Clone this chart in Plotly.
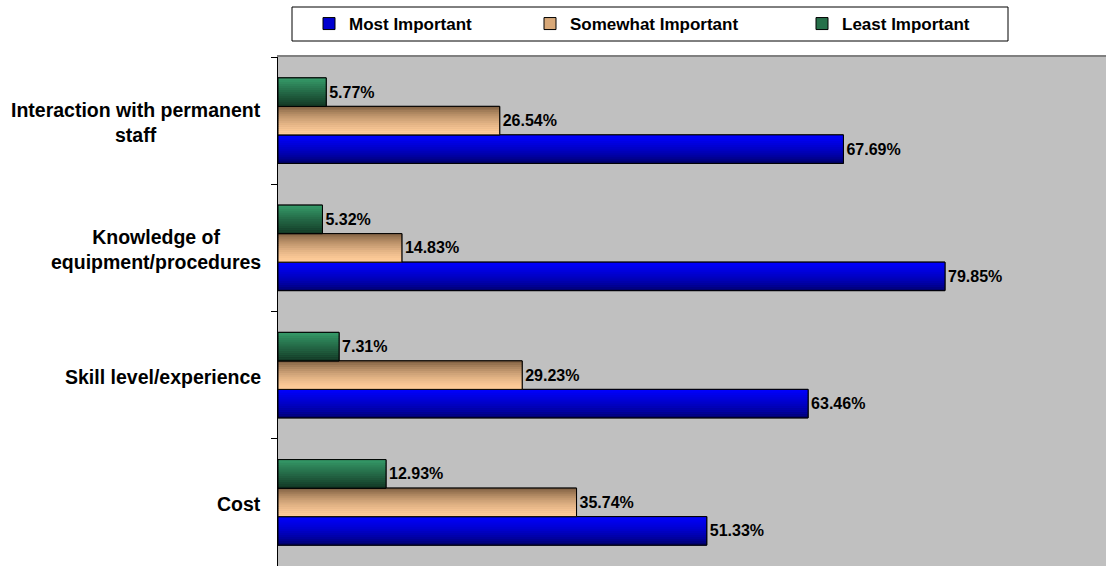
import plotly.graph_objects as go

# Categories listed bottom-to-top along the y axis
categories = ["Cost", "Skill level/experience", "Knowledge of equipment/procedures",
              "Interaction with permanent staff"]
category_labels = ["Cost", "Skill level/experience", "Knowledge of<br>equipment/procedures",
                   "Interaction with permanent<br>staff"]

most_important = [51.33, 63.46, 79.85, 67.69]
somewhat_important = [35.74, 29.23, 14.83, 26.54]
least_important = [12.93, 7.31, 5.32, 5.77]

series_names = ["Most Important", "Somewhat Important", "Least Important"]
series_values = [most_important, somewhat_important, least_important]

# gradient end colours (bottom, top) and a shaping exponent per series
gradients = [
    ((0x00, 0x00, 0x55), (0x00, 0x00, 0xFF), 0.6),
    ((0xFF, 0xCC, 0x99), (0x80, 0x60, 0x42), 1.6),
    ((0x12, 0x36, 0x24), (0x36, 0x9C, 0x69), 1.0),
]
legend_swatch = ["#0000D0", "#D8A878", "#26704A"]

FONT = "Arial, Liberation Sans, sans-serif"
BAR_W = 0.224          # thickness of one bar in category units
N_SLICES = 14          # horizontal strips used to paint the vertical gradient

W, H = 1106, 566
L, T = 278, 57
plot_w, plot_h = W - L, H - T


def mix(c0, c1, t):
    return "rgb(%d,%d,%d)" % tuple(round(a + (b - a) * t) for a, b in zip(c0, c1))


fig = go.Figure()
legend_ids = ["legend", "legend2", "legend3"]

for k, (name, vals) in enumerate(zip(series_names, series_values)):
    base_off = -1.5 * BAR_W + k * BAR_W
    bottom, top, gamma = gradients[k]

    # solid base bar (carries the legend entry)
    fig.add_trace(go.Bar(
        x=vals, y=categories, orientation="h", name=name,
        offset=base_off, width=BAR_W,
        marker=dict(color=legend_swatch[k], line=dict(color="black", width=1)),
        legend=legend_ids[k], showlegend=True, hoverinfo="skip",
    ))

    # gradient strips, bottom to top
    step = BAR_W / N_SLICES
    for i in range(N_SLICES):
        t = (i + 0.5) / N_SLICES
        fig.add_trace(go.Bar(
            x=vals, y=categories, orientation="h",
            offset=base_off + i * step, width=step * 1.15 if i < N_SLICES - 1 else step,
            marker=dict(color=mix(bottom, top, t ** gamma), line=dict(width=0)),
            showlegend=False, hoverinfo="skip",
        ))

    # outline and value label on top
    fig.add_trace(go.Bar(
        x=vals, y=categories, orientation="h", name=name,
        offset=base_off, width=BAR_W,
        marker=dict(color="rgba(0,0,0,0)", line=dict(color="black", width=1)),
        texttemplate="%{x:.2f}%", textposition="outside", constraintext="none",
        textfont=dict(family=FONT, size=16, color="black", weight="bold"),
        cliponaxis=False, showlegend=False,
        hovertemplate="%{y}: %{x:.2f}%<extra>" + name + "</extra>",
    ))

# category labels to the left of the axis, centred line by line
for cat, lab in zip(categories, category_labels):
    fig.add_annotation(
        x=0, xref="paper", y=cat, yref="y", text=lab, showarrow=False,
        xanchor="right", yanchor="middle", align="center", xshift=-15, yshift=-2,
        font=dict(family=FONT, size=19.5, color="black", weight="bold"),
    )

# legend frame
def px_x(px):
    return (px - L) / plot_w


def px_y(py):
    return 1 + (T - py) / plot_h


fig.add_shape(type="rect", xref="paper", yref="paper",
              x0=px_x(292), x1=px_x(1008), y0=px_y(41), y1=px_y(7),
              line=dict(color="black", width=1), fillcolor="white", layer="below")

legend_left_px = [309, 530, 802]
layout_legends = {}
for lid, lx in zip(legend_ids, legend_left_px):
    layout_legends[lid] = dict(
        x=px_x(lx), xanchor="left", y=px_y(24), yanchor="middle",
        orientation="h", bgcolor="rgba(0,0,0,0)", borderwidth=0,
        font=dict(family=FONT, size=17, color="black", weight="bold"),
        itemclick=False, itemdoubleclick=False,
    )

fig.update_layout(
    width=W, height=H,
    margin=dict(l=L, r=0, t=T, b=0, pad=0),
    barmode="overlay",
    paper_bgcolor="white",
    plot_bgcolor="#C0C0C0",
    xaxis=dict(range=[0, plot_w / 8.353], showgrid=False, zeroline=False,
               showticklabels=False, ticks="", side="top",
               showline=True, linecolor="#808080", linewidth=2),
    yaxis=dict(categoryorder="array", categoryarray=categories,
               range=[-0.5, 3.5], showgrid=False, zeroline=False,
               showticklabels=False, showline=True, linecolor="black", linewidth=1,
               ticks="outside", tickson="boundaries", ticklen=6, tickcolor="black"),
    showlegend=True,
    **layout_legends,
)

fig.write_html("out.html")
